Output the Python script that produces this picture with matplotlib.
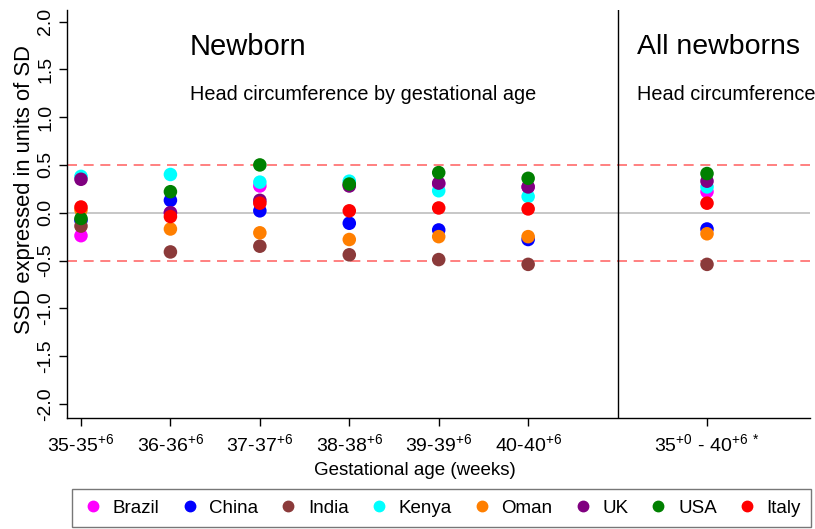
import numpy as np
import matplotlib
matplotlib.use("Agg")
import matplotlib.pyplot as plt
from matplotlib.lines import Line2D

plt.rcParams['font.family'] = ['Liberation Sans', 'DejaVu Sans']
plt.rcParams['mathtext.fontset'] = 'custom'
plt.rcParams['mathtext.rm'] = 'Liberation Sans'
plt.rcParams['mathtext.it'] = 'Liberation Sans'

# gestational age groups, last one is the pooled group
groups = ['35-35$^{+6}$', '36-36$^{+6}$', '37-37$^{+6}$', '38-38$^{+6}$',
          '39-39$^{+6}$', '40-40$^{+6}$', '35$^{+0}$ - 40$^{+6}$ $^{*}$']
group_x = [1, 2, 3, 4, 5, 6, 8]

countries = ['Brazil', 'China', 'India', 'Kenya', 'Oman', 'UK', 'USA', 'Italy']
colors = ['#ff00ff', '#0000ff', '#8b3a3a', '#00ffff', '#ff7f00', '#800080', '#008000', '#ff0000']

# SSD per country for each group
brazil = [-0.24, 0.00, 0.28, 0.29, 0.30, 0.27, 0.22]
china = [-0.08, 0.13, 0.02, -0.11, -0.18, -0.28, -0.17]
india = [-0.14, -0.41, -0.35, -0.44, -0.49, -0.54, -0.54]
kenya = [0.38, 0.40, 0.32, 0.33, 0.23, 0.17, 0.27]
oman = [0.03, -0.17, -0.21, -0.28, -0.25, -0.25, -0.22]
uk = [0.35, 0.00, 0.13, 0.28, 0.31, 0.27, 0.33]
usa = [-0.06, 0.22, 0.50, 0.30, 0.42, 0.36, 0.41]
italy = [0.06, -0.04, 0.10, 0.02, 0.05, 0.04, 0.10]
series = [brazil, china, india, kenya, oman, uk, usa, italy]

fig = plt.figure(figsize=(8.15, 5.29), dpi=100)
ax = fig.add_axes([0.0822, 0.21, 0.9117, 0.771])

ax.axhline(0, color='#bdbdbd', lw=1.2, zorder=1)
for yv in (0.5, -0.5):
    ax.axhline(yv, color='#ff5050', lw=1.2, ls=(0, (6, 4)), alpha=0.85, zorder=1)
ax.axvline(7, color='black', lw=1.0, zorder=1)

for vals, c in zip(series, colors):
    ax.scatter(group_x, vals, s=95, color=c, edgecolors='none', zorder=3)

ax.set_xlim(0.8435, 9.152)
ax.set_ylim(-2.146, 2.12)
ax.set_xticks(group_x)
ax.set_xticklabels(groups, fontsize=14)
ax.set_yticks(np.arange(-2.0, 2.01, 0.5))
ax.set_yticklabels([f'{v:.1f}' for v in np.arange(-2.0, 2.01, 0.5)],
                   rotation=90, va='center', fontsize=14)
ax.tick_params(axis='both', length=6, width=1, color='black')
ax.tick_params(axis='x', pad=5)
ax.tick_params(axis='y', pad=3)
for side in ('top', 'right'):
    ax.spines[side].set_visible(False)
for side in ('left', 'bottom'):
    ax.spines[side].set_linewidth(1.0)

ax.set_xlabel('Gestational age (weeks)', fontsize=13.5)
ax.set_ylabel('SSD expressed in units of SD', fontsize=15.8)
ax.xaxis.set_label_coords(0.468, -0.107)
ax.yaxis.set_label_coords(-0.043, 0.56)

ax.text(2.22, 1.73, 'Newborn', fontsize=21, va='center', ha='left')
ax.text(2.22, 1.24, 'Head circumference by gestational age', fontsize=14.3,
        va='center', ha='left')
ax.text(7.22, 1.73, 'All newborns', fontsize=20.5, va='center', ha='left')
ax.text(7.22, 1.24, 'Head circumference', fontsize=14.3, va='center', ha='left',
        clip_on=False)

handles = [Line2D([], [], marker='o', ls='none', color=c, markersize=7.5)
           for c in colors]
leg = fig.legend(handles, countries, ncol=8, loc='center',
                 bbox_to_anchor=(0.5417, 0.039), fontsize=13.5, frameon=True,
                 fancybox=False, edgecolor='#555555', handletextpad=0.45,
                 columnspacing=1.0, handlelength=1.2, borderpad=0.55)
leg.get_frame().set_linewidth(1.0)

fig.savefig('out.png', dpi=100)
